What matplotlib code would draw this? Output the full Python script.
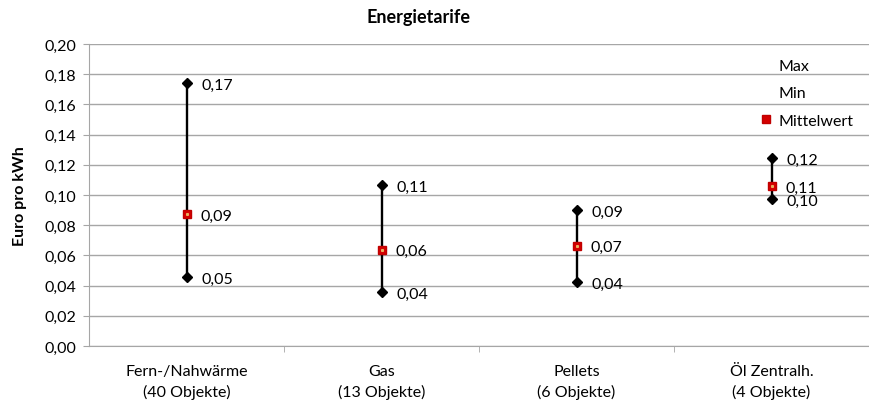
import matplotlib.pyplot as plt
import numpy as np
from matplotlib.lines import Line2D

plt.rcParams['font.family'] = ['Lato', 'DejaVu Sans']

categories = ["Fern-/Nahwärme\n(40 Objekte)", "Gas\n(13 Objekte)",
              "Pellets\n(6 Objekte)", "Öl Zentralh.\n(4 Objekte)"]
max_vals = [0.1745, 0.1066, 0.0903, 0.1245]
min_vals = [0.0457, 0.0358, 0.0422, 0.0975]
mean_vals = [0.0874, 0.0636, 0.0665, 0.1057]
yticks = [0.00, 0.02, 0.04, 0.06, 0.08, 0.10, 0.12, 0.14, 0.16, 0.18, 0.20]


def fmt(v):
    return f"{v:.2f}".replace(".", ",")


fig = plt.figure(figsize=(8.69, 4.10), dpi=100)
ax = fig.add_axes([89 / 869, 63 / 410, 1 - 89 / 869, 302 / 410])

x = np.arange(len(categories))
grey = "#a6a6a6"
fs = 11.5

for i in x:
    ax.plot([i, i], [min_vals[i], max_vals[i]], color="black", lw=1.7, zorder=3)
ax.plot(x, max_vals, ls="none", marker="D", ms=5.5, color="black", zorder=4)
ax.plot(x, min_vals, ls="none", marker="D", ms=5.5, color="black", zorder=4)
ax.plot(x, mean_vals, ls="none", marker="s", ms=5.5, mfc="#d40000",
        mec="#c00000", zorder=5)
ax.plot(x, mean_vals, ls="none", marker="s", ms=1.2, color="#e8b060", zorder=6)

for i in x:
    ax.annotate(fmt(max_vals[i]), (i, max_vals[i]), xytext=(11, -1.5),
                textcoords="offset points", va="center", fontsize=fs)
    ax.annotate(fmt(min_vals[i]), (i, min_vals[i]), xytext=(11, -1.5),
                textcoords="offset points", va="center", fontsize=fs)
    ax.annotate(fmt(mean_vals[i]), (i, mean_vals[i]), xytext=(10, -1),
                textcoords="offset points", va="center", fontsize=fs)

ax.set_ylim(0, 0.20)
ax.set_xlim(-0.5, 3.48)
ax.set_yticks(yticks)
ax.set_yticklabels([fmt(v) for v in yticks], fontsize=fs)
ax.set_xticks(x)
ax.set_xticklabels(categories, fontsize=fs, linespacing=1.5)
ax.set_xticks(np.arange(len(categories)) + 0.5, minor=True)
ax.tick_params(axis="x", which="major", length=0, pad=13)
ax.tick_params(axis="x", which="minor", length=4, color=grey, direction="out")
ax.tick_params(axis="y", length=4, color=grey, pad=5)

ax.grid(axis="y", color=grey, lw=1)
ax.set_axisbelow(True)
for side in ["top", "right"]:
    ax.spines[side].set_visible(False)
ax.spines["left"].set_color(grey)
ax.spines["bottom"].set_color(grey)

ax.set_ylabel("Euro pro kWh", fontsize=fs, fontweight="bold", labelpad=13)
fig.text(419 / 869, 1 - 18 / 410, "Energietarife", ha="center", va="center",
         fontsize=13, fontweight="bold")

handles = [
    Line2D([], [], ls="none"),
    Line2D([], [], ls="none"),
    Line2D([], [], ls="none", marker="s", ms=5.5, mfc="#d40000", mec="#c00000"),
]
ax.legend(handles, ["Max", "Min", "Mittelwert"], loc="upper left",
          bbox_to_anchor=(760 / 869, 1 - 60 / 410), bbox_transform=fig.transFigure,
          frameon=False, fontsize=fs, handlelength=0.8, handletextpad=0.35,
          labelspacing=0.82, borderpad=0, borderaxespad=0)

fig.savefig("out.png", dpi=100)
